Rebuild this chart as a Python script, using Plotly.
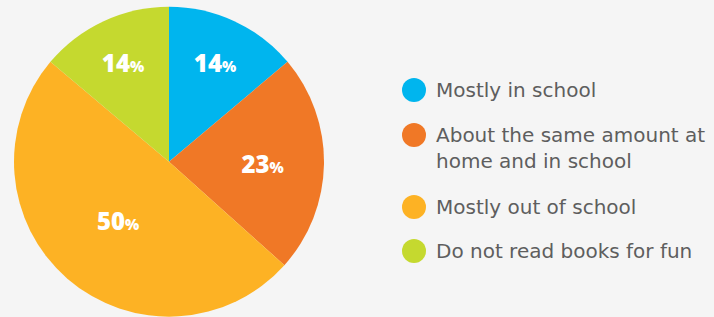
import plotly.graph_objects as go

categories = ["Mostly in school", "About the same amount at<br>home and in school",
              "Mostly out of school", "Do not read books for fun"]
values = [14, 23, 50, 14]
colors = ["#00b5ee", "#f07826", "#fdb224", "#c5d92f"]

W, H = 714, 317
fig = go.Figure()
fig.add_trace(go.Pie(
    values=values, labels=categories, sort=False, direction="clockwise", rotation=0,
    marker=dict(colors=colors, line=dict(width=0)),
    texttemplate="%{value}<span style='font-size:15px'>%</span>",
    textposition="inside", insidetextorientation="horizontal",
    textfont=dict(family="Open Sans", size=24, color="white", weight=800),
    domain=dict(x=[14 / W, 324 / W], y=[0.0, 0.98]),
    showlegend=False, hoverinfo="label+percent",
))

# legend drawn as circles + text
dot_y = [90, 135, 207, 251]
fs = 20
cx = 414
for cat, col, dy in zip(categories, colors, dot_y):
    nlines = cat.count("<br>") + 1
    fig.add_shape(type="circle", xref="paper", yref="paper",
                  xsizemode="pixel", ysizemode="pixel",
                  xanchor=cx / W, yanchor=1 - dy / H,
                  x0=-12, x1=12, y0=-12, y1=12,
                  fillcolor=col, line=dict(width=0))
    ymid = dy + (nlines - 1) * fs * 1.3 / 2
    fig.add_annotation(xref="paper", yref="paper", x=434 / W,
                       y=1 - ymid / H,
                       xanchor="left", yanchor="middle", align="left",
                       text=cat, showarrow=False,
                       font=dict(family="DejaVu Sans", size=fs, color="#5e5e5e", weight=400))

fig.update_layout(width=W, height=H, margin=dict(l=0, r=0, t=0, b=0),
                  paper_bgcolor="#f5f5f5", plot_bgcolor="#f5f5f5")
fig.write_html("out.html", config={"displayModeBar": False},
               post_script="document.body.style.margin='0';document.body.style.overflow='hidden';")
